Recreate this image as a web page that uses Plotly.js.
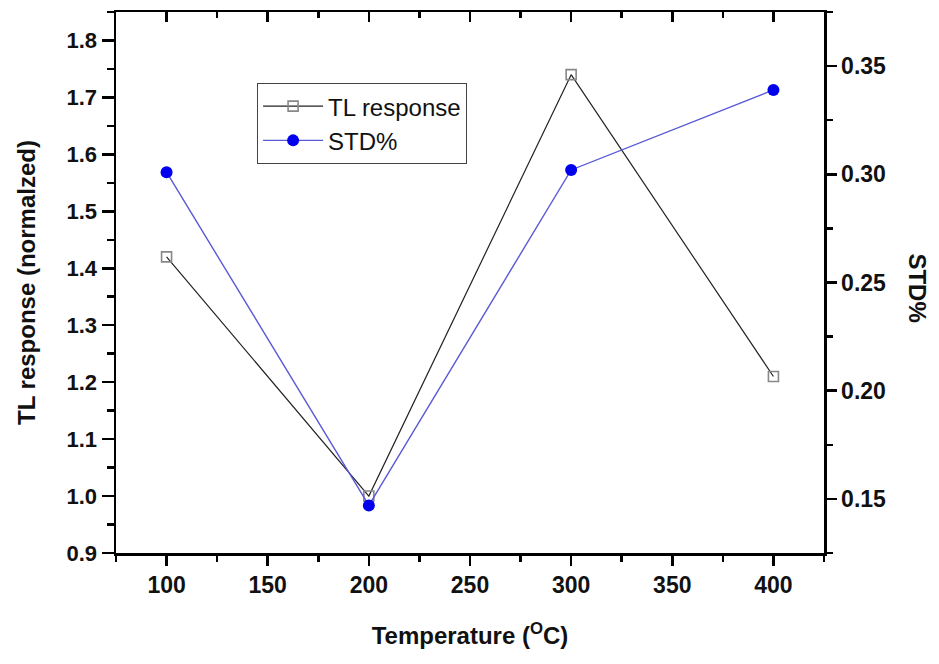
<!DOCTYPE html>
<html>
<head>
<meta charset="utf-8">
<script src="https://cdn.plot.ly/plotly-3.0.1.min.js"></script>
<style>html,body{margin:0;padding:0;background:#fff;}#chart{width:939px;height:664px;}</style>
</head>
<body>
<div id="chart"></div>
<script>
const temperature = [100, 200, 300, 400];
const tlResponse = [1.42, 1.0, 1.74, 1.21];
const stdPercent = [0.301, 0.147, 0.302, 0.339];
const xTickVals = [100, 150, 200, 250, 300, 350, 400];
const yLeftTickVals = [0.9, 1.0, 1.1, 1.2, 1.3, 1.4, 1.5, 1.6, 1.7, 1.8];
const yLeftTickText = ['0.9','1.0','1.1','1.2','1.3','1.4','1.5','1.6','1.7','1.8'];
const yRightTickVals = [0.15, 0.20, 0.25, 0.30, 0.35];
const yRightTickText = ['0.15','0.20','0.25','0.30','0.35'];

const tickFont = {family: 'Liberation Sans, Arial, sans-serif', size: 22, color: '#111', weight: 'bold'};
const tickFontBig = {family: 'Liberation Sans, Arial, sans-serif', size: 23, color: '#111', weight: 'bold'};
const titleFont = {family: 'Liberation Sans, Arial, sans-serif', size: 24, color: '#111', weight: 'bold'};

const traces = [
  {
    x: temperature, y: tlResponse, name: 'TL response',
    type: 'scatter', mode: 'lines+markers', xaxis: 'x', yaxis: 'y',
    line: {color: '#222', width: 1.2},
    marker: {symbol: 'square-open', size: 10, color: '#888', line: {width: 1.6, color: '#888'}}
  },
  {
    x: temperature, y: stdPercent, name: 'STD%',
    type: 'scatter', mode: 'lines+markers', xaxis: 'x2', yaxis: 'y2',
    line: {color: '#5a5ad8', width: 1.4},
    marker: {symbol: 'circle', size: 12, color: '#0000ee'}
  }
];

const layout = {
  width: 939, height: 664,
  margin: {l: 116, r: 115, t: 12, b: 111},
  paper_bgcolor: '#fff', plot_bgcolor: '#fff',
  showlegend: true,
  legend: {
    x: 0.199, y: 0.869, xanchor: 'left', yanchor: 'top',
    bgcolor: '#fff', bordercolor: '#444', borderwidth: 1.2,
    font: {family: 'Liberation Sans, Arial, sans-serif', size: 24, color: '#111'},
    itemwidth: 60, tracegroupgap: 0
  },
  xaxis: {
    range: [75, 425], tickvals: xTickVals, ticktext: xTickVals.map(String),
    showgrid: false, zeroline: false, showline: true, linecolor: '#000', linewidth: 2.5,
    ticks: 'outside', ticklen: 10, tickwidth: 2.5, tickcolor: '#000',
    minor: {dtick: 25, tick0: 75, ticks: 'outside', ticklen: 6, tickwidth: 2.5, tickcolor: '#000', showgrid: false},
    tickfont: tickFontBig, ticklabelstandoff: 0,
    title: {text: 'Temperature (<sup>O</sup>C)', font: titleFont, standoff: 30}
  },
  xaxis2: {
    range: [75, 425], overlaying: 'x', side: 'top', anchor: 'y2', matches: 'x',
    tickvals: xTickVals, showticklabels: false,
    showgrid: false, zeroline: false, showline: true, linecolor: '#000', linewidth: 2.5,
    ticks: 'inside', ticklen: 10, tickwidth: 2.5, tickcolor: '#000',
    minor: {dtick: 25, tick0: 75, ticks: 'inside', ticklen: 6, tickwidth: 2.5, tickcolor: '#000', showgrid: false}
  },
  yaxis: {
    range: [0.9, 1.85], tickvals: yLeftTickVals, ticktext: yLeftTickText,
    showgrid: false, zeroline: false, showline: true, linecolor: '#000', linewidth: 2.5,
    ticks: 'outside', ticklen: 12, tickwidth: 2.5, tickcolor: '#000',
    minor: {dtick: 0.05, tick0: 0.9, ticks: 'outside', ticklen: 7, tickwidth: 2.5, tickcolor: '#000', showgrid: false},
    tickfont: tickFont, ticklabelstandoff: 0,
    title: {text: 'TL response (normalzed)', font: titleFont, standoff: 24}
  },
  yaxis2: {
    range: [0.125, 0.375], overlaying: 'y', side: 'right', anchor: 'x2',
    tickvals: yRightTickVals, ticktext: yRightTickText,
    showgrid: false, zeroline: false, showline: true, linecolor: '#000', linewidth: 2.5,
    ticks: 'outside', ticklen: 10, tickwidth: 2.5, tickcolor: '#000',
    minor: {dtick: 0.025, tick0: 0.125, ticks: 'outside', ticklen: 6, tickwidth: 2.5, tickcolor: '#000', showgrid: false},
    tickfont: tickFontBig, ticklabelstandoff: 0
  },
  annotations: [
    {
      text: 'STD%', xref: 'paper', yref: 'paper', x: 1.132, y: 0.49,
      xanchor: 'center', yanchor: 'middle', textangle: 90, showarrow: false,
      font: titleFont
    }
  ]
};

Plotly.newPlot('chart', traces, layout, {displayModeBar: false, staticPlot: true});
</script>
</body>
</html>
